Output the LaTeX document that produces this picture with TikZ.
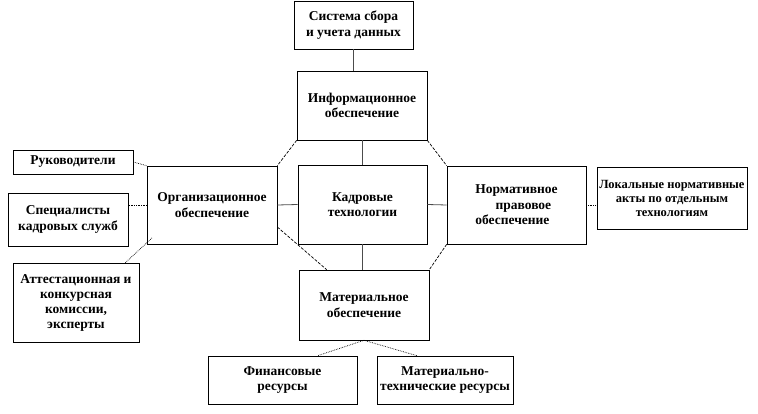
\documentclass[tikz,border=0pt]{standalone}
\usepackage{fontspec}
\setmainfont{Liberation Serif}
\usepackage{tikz}

\begin{document}
\begin{tikzpicture}[x=1pt, y=-1pt,
	box/.style={draw, line width=0.6pt, align=center, inner sep=1pt, font=\bfseries\fontsize{13.5}{15.5}\selectfont},
	link/.style={gray!60!black, line width=0.8pt},
	diag/.style={line width=0.7pt, dash pattern=on 3pt off 1.5pt},
	dots/.style={line width=0.7pt, densely dotted}]
	\useasboundingbox (0,0) rectangle (758,414);
	\node [box, minimum width=119, minimum height=48] (sbor) at (353.5,25) {Система сбора\\и учета данных};
	\node [box, minimum width=130, minimum height=69] (info) at (362,105.5) {Информационное\\обеспечение};
	\node [box, minimum width=129, minimum height=79] (kadr) at (362.5,204.5) {Кадровые\\технологии};
	\node [box, minimum width=130, minimum height=78] (org) at (212,205) {Организационное\\обеспечение};
	\node [box, minimum width=139, minimum height=78, align=left] (norm) at (516.5,205) {Нормативное\\\hspace*{1.5em}правовое\\обеспечение};
	\node [box, minimum width=150, minimum height=62, font=\bfseries\fontsize{12.5}{14}\selectfont] (lokal) at (672,198) {Локальные нормативные\\акты по отдельным\\технологиям};
	\node [box, minimum width=130, minimum height=70] (mat) at (364,305) {Материальное\\обеспечение};
	\node [box, minimum width=149, minimum height=48] (fin) at (282.5,380) {Финансовые\\ресурсы};
	\node [box, minimum width=136, minimum height=48] (mteh) at (445,380) {Материально-\\технические ресурсы};
	\node [box, minimum width=120, minimum height=24] (ruk) at (73,162) {Руководители};
	\node [box, minimum width=120, minimum height=53] (spec) at (68,219.5) {Специалисты\\кадровых служб};
	\node [box, minimum width=126, minimum height=79, font=\bfseries\fontsize{13.5}{15}\selectfont] (atest) at (76,302.5) {Аттестационная и\\конкурсная\\комиссии,\\эксперты};
	\draw [link] (sbor.south) -- (sbor.south |- info.north);
	\draw [link] (info.south) -- (info.south |- kadr.north);
	\draw [link] (kadr.south) -- (kadr.south |- mat.north);
	\draw [link] (org.east) -- (kadr.west);
	\draw [link] (kadr.east) -- (norm.west);
	\draw [diag] (info.south west) -- (org.north east);
	\draw [diag] (info.south east) -- (norm.north west);
	\draw [diag] (norm.south west) -- (mat.north east);
	\draw [diag] ([yshift=-22pt]org.east) -- ([xshift=28pt]mat.north west);
	\draw [dots] (mat.south) -- ([xshift=35pt]fin.north);
	\draw [dots] (mat.south) -- ([xshift=-28pt]mteh.north);
	\draw [dots] (ruk.east) -- (org.north west);
	\draw [dots] (org.west) -- (org.west -| spec.east);
	\draw [dots] ([xshift=-14pt]atest.north east) -- ([shift={(6pt,7pt)}]org.south west);
	\draw [dots] (norm.east) -- (norm.east -| lokal.west);
\end{tikzpicture}
\end{document}
